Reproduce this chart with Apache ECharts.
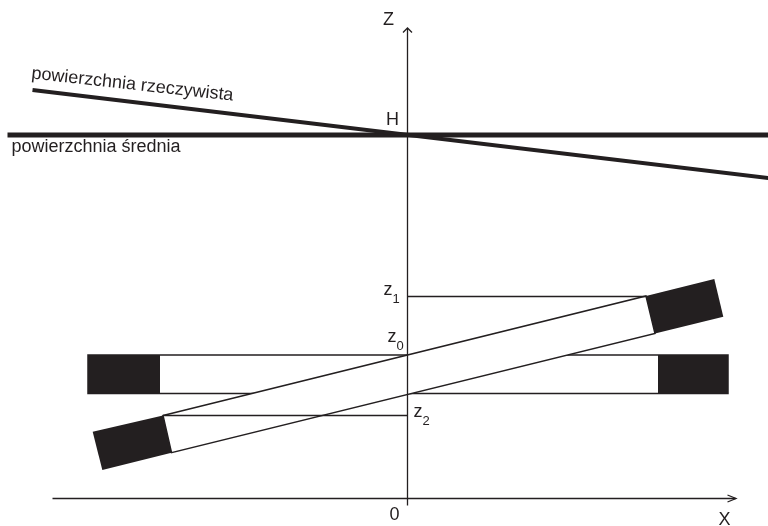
<!DOCTYPE html>
<html><head><meta charset="utf-8">
<style>html,body{margin:0;padding:0;background:#fff}#c{width:768px;height:526px}</style>
<script src="https://cdn.jsdelivr.net/npm/echarts@6/dist/echarts.min.js"></script>
</head><body><div id="c"></div>
<script>
// Coordinates: X to the right and Z upward, with 0 at the axes' origin.
const zAxisLine = [[0, -7], [0, 470]];
const zArrow = [[-4.5, 466], [0, 470.5], [4.5, 466]];
const xAxisLine = [[-355, 0], [328, 0]];
const xArrow = [[320, 3.5], [328.5, 0], [320, -3.5]];
const meanSurface = [[-400, 363.5], [361, 363.5]];
const realSurface = [[-375, 408.5], [361, 320.5]];
const flatBar = [[-319.5, 143.5], [320.5, 143.5], [320.5, 105], [-319.5, 105]];
const flatLeftBlock = [[-319.5, 143.5], [-247.5, 143.5], [-247.5, 105], [-319.5, 105]];
const flatRightBlock = [[250.5, 143.5], [320.5, 143.5], [320.5, 105], [250.5, 105]];
const tiltedBar = [[-244.5, 83], [238.5, 202.5], [247.5, 165], [-236, 45.8]];
const tiltedLeftBlock = [[-314.8, 66.8], [-244.5, 83], [-236, 45.8], [-305.2, 28.5]];
const tiltedRightBlock = [[238.5, 202.5], [306.8, 219.5], [315.8, 181.8], [247.5, 165]];
const z1Guide = [[0, 202], [238.5, 202]];
const z2Guide = [[-244.5, 83], [0, 83]];
const labelTexts = ['Z', 'H', 'X', '0', '{z|z}{s|0}', '{z|z}{s|1}', '{z|z}{s|2}', 'powierzchnia średnia', 'powierzchnia rzeczywista'];
const labelPoints = [[-24.5, 478.5], [-21.5, 378.5], [311, -22], [-18, -17], [-20, 158], [-24, 205], [6, 83], [-396, 351], [-376, 425]];
const labelRotations = [0, 0, 0, 0, 0, 0, 0, 0, -6.3];

const ink = '#231f20';
const line = (data, width) => ({type: 'line', data, symbol: 'none', silent: true, animation: false,
  lineStyle: {color: ink, width, cap: 'butt', join: 'miter'}, z: 5});
const poly = (data, fill, stroke) => ({type: 'custom', data: [0], silent: true, animation: false, z: 3,
  renderItem: (p, api) => ({type: 'polygon',
    shape: {points: data.map(d => api.coord(d))},
    style: {fill, stroke: stroke || fill, lineWidth: stroke ? 1.5 : 0}})});
const richStyle = {z: {fontSize: 18, color: ink, fontFamily: 'Liberation Sans', verticalAlign: 'top', lineHeight: 25},
                   s: {fontSize: 13, color: ink, fontFamily: 'Liberation Sans', verticalAlign: 'bottom', lineHeight: 25}};

const chart = echarts.init(document.getElementById('c'), null, {renderer: 'canvas'});
chart.setOption({
  animation: false, backgroundColor: '#fff',
  grid: {left: 0, right: 0, top: 0, bottom: 0},
  xAxis: {type: 'value', min: -407.5, max: 360.5, show: false},
  yAxis: {type: 'value', min: -27.5, max: 498.5, show: false},
  series: [
    poly(flatBar, '#fff', ink),
    poly(flatLeftBlock, ink), poly(flatRightBlock, ink),
    Object.assign(poly(tiltedBar, '#fff', ink), {z: 4}),
    Object.assign(poly(tiltedLeftBlock, ink), {z: 4}),
    Object.assign(poly(tiltedRightBlock, ink), {z: 4}),
    line(z1Guide, 1.3), line(z2Guide, 1.3),
    line(zAxisLine, 1.3), line(zArrow, 1.3),
    line(xAxisLine, 1.3), line(xArrow, 1.3),
    line(meanSurface, 5), line(realSurface, 4),
    {type: 'custom', silent: true, animation: false, z: 6,
     data: labelTexts.map((t, i) => [labelPoints[i][0], labelPoints[i][1], t, labelRotations[i]]),
     renderItem: (p, api) => {
       const i = p.dataIndex, c = api.coord(labelPoints[i]);
       return {type: 'text', x: c[0], y: c[1], rotation: labelRotations[i] * Math.PI / 180,
         style: {text: labelTexts[i], fontSize: 18, fontFamily: 'Liberation Sans', fill: ink,
                 align: 'left', verticalAlign: 'middle', rich: richStyle}};
     }}
  ]
});
</script></body></html>
